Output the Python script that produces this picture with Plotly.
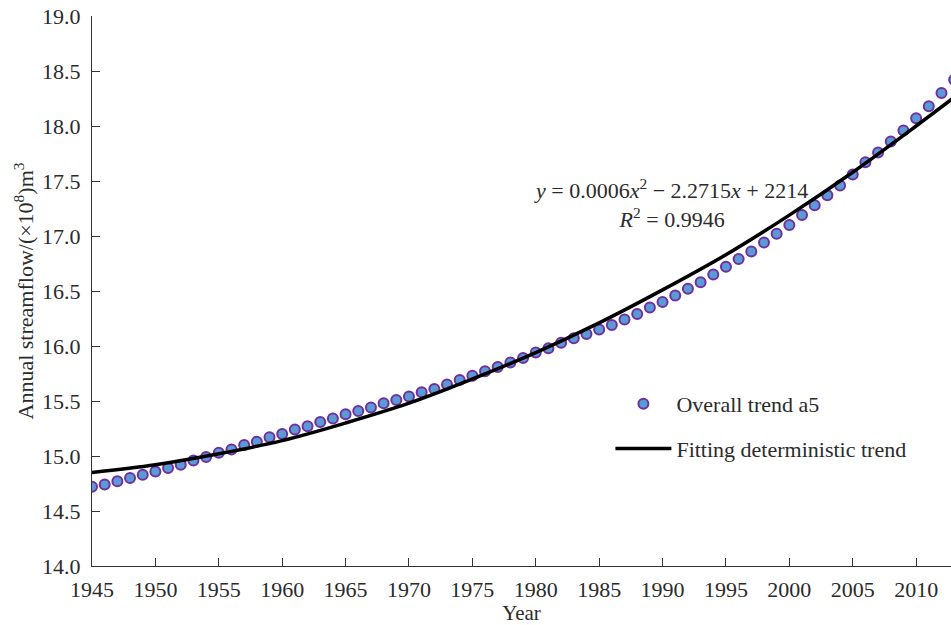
import plotly.graph_objects as go

years = list(range(1945, 2014))
trend_a5 = [14.72, 14.74, 14.77, 14.80, 14.83, 14.86, 14.89, 14.92, 14.96, 14.99,
            15.03, 15.06, 15.10, 15.13, 15.17, 15.20, 15.24, 15.27, 15.31, 15.34,
            15.38, 15.41, 15.44, 15.48, 15.51, 15.54, 15.58, 15.61, 15.65, 15.69,
            15.73, 15.77, 15.81, 15.85, 15.89, 15.94, 15.98, 16.03, 16.07, 16.11,
            16.15, 16.19, 16.24, 16.29, 16.35, 16.40, 16.46, 16.52, 16.58, 16.65,
            16.72, 16.79, 16.86, 16.94, 17.02, 17.10, 17.19, 17.28, 17.37, 17.46,
            17.56, 17.67, 17.76, 17.86, 17.96, 18.07, 18.18, 18.30, 18.42]

fit_years = [1945, 1950, 1955, 1960, 1965, 1970, 1975, 1980, 1985, 1990, 1995, 2000, 2005, 2010, 2013]
fit_values = [14.85, 14.92, 15.02, 15.14, 15.30, 15.48, 15.70, 15.94, 16.21, 16.51, 16.83, 17.19, 17.58, 18.00, 18.26]

x_ticks = list(range(1945, 2015, 5))
y_ticks = [14.0, 14.5, 15.0, 15.5, 16.0, 16.5, 17.0, 17.5, 18.0, 18.5, 19.0]

FONT = "Liberation Serif, Times New Roman, serif"
TXT = "#2b2b2b"

fig = go.Figure()
fig.add_trace(go.Scatter(
    x=years, y=trend_a5, mode="markers", name="Overall trend a5",
    legendgroup="a",
    marker=dict(size=10, color="#5B9BD5", line=dict(color="#7030A0", width=2)),
))
fig.add_trace(go.Scatter(
    x=fit_years, y=fit_values, mode="lines", name="Fitting deterministic trend",
    legendgroup="b",
    line=dict(color="black", width=3.5, shape="spline", smoothing=1.0),
))

fig.add_annotation(
    x=1990.7, y=17.3, xref="x", yref="y", showarrow=False,
    text="<i>y</i> = 0.0006<i>x</i><sup>2</sup> − 2.2715<i>x</i> + 2214<br><i>R</i><sup>2</sup> = 0.9946",
    font=dict(family=FONT, size=22, color=TXT), align="center",
)

fig.update_layout(
    width=951, height=625,
    margin=dict(l=92, r=0, t=16, b=59),
    paper_bgcolor="white", plot_bgcolor="white",
    font=dict(family=FONT, size=22, color=TXT),
    showlegend=True,
    legend=dict(x=0.6035, y=0.2536, xanchor="left", yanchor="middle",
                itemwidth=56,
                font=dict(family=FONT, size=22, color=TXT),
                bgcolor="rgba(0,0,0,0)", tracegroupgap=13, traceorder="grouped"),
)
fig.update_xaxes(
    range=[1945, 2012.75], tickvals=x_ticks, ticktext=[str(v) for v in x_ticks],
    ticks="inside", ticklen=8, tickwidth=1.3, tickcolor="#333",
    showline=True, linecolor="#333", linewidth=1.3, showgrid=False, zeroline=False,
    tickfont=dict(family=FONT, size=22, color=TXT), ticklabelstandoff=3,
    title=dict(text="Year", font=dict(family=FONT, size=21, color=TXT), standoff=0),
)
fig.update_yaxes(
    range=[14.0, 19.0], tickvals=y_ticks, ticktext=[f"{v:.1f}" for v in y_ticks],
    ticks="inside", ticklen=8, tickwidth=1.3, tickcolor="#333",
    showline=True, linecolor="#333", linewidth=1.3, showgrid=False, zeroline=False,
    tickfont=dict(family=FONT, size=22, color=TXT), ticklabelstandoff=6,
    title=dict(text="Annual streamflow/(×10<sup>8</sup>)m<sup>3</sup>",
               font=dict(family=FONT, size=22, color=TXT), standoff=2),
)

fig.write_html("out.html")
